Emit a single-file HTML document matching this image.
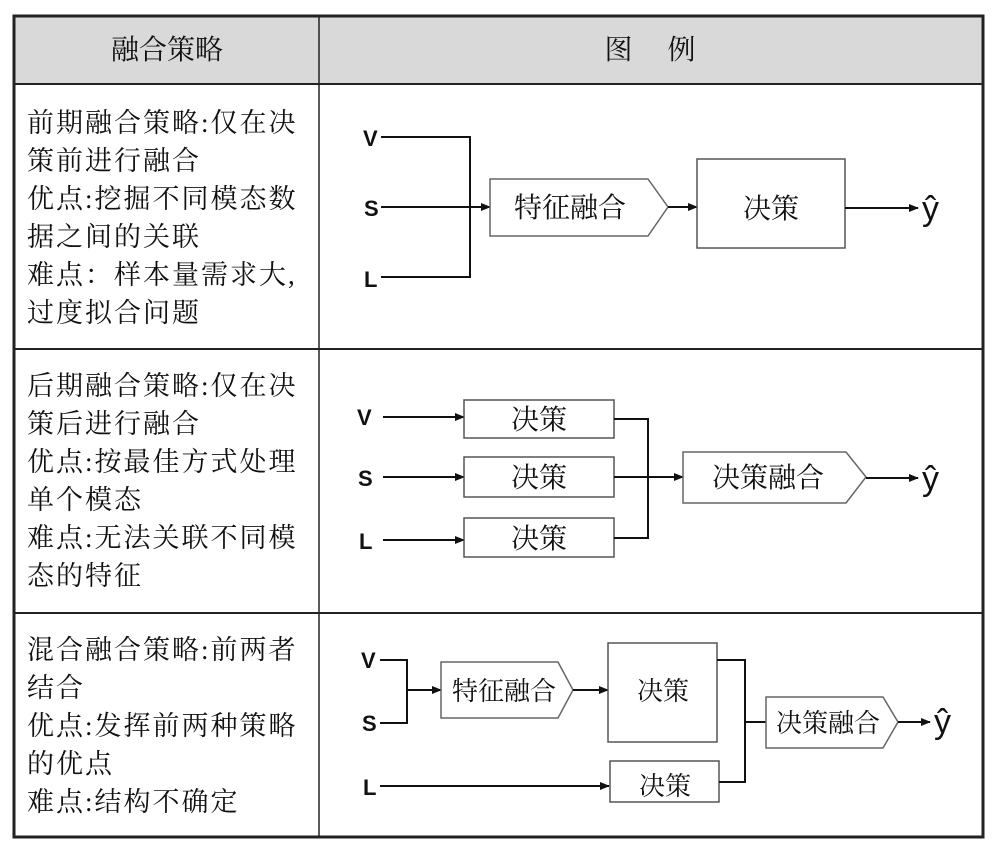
<!DOCTYPE html>
<html><head><meta charset="utf-8"><style>
body{margin:0;background:#fff;}
svg{display:block}
.t{font-family:"Liberation Serif","Noto Serif CJK SC","Noto Sans CJK SC",serif;font-size:27px;letter-spacing:2px;fill:#111;}
.b{font-family:"Liberation Serif","Noto Serif CJK SC","Noto Sans CJK SC",serif;font-size:28px;fill:#111;}
.l{font-family:"Liberation Sans",sans-serif;font-weight:bold;font-size:22px;fill:#111;}
.y{font-family:"Liberation Sans",sans-serif;font-size:34px;fill:#111;}
</style></head><body>
<svg width="999" height="856" viewBox="0 0 999 856">
<defs><marker id="a" markerWidth="10" markerHeight="8" refX="9" refY="4" orient="auto" markerUnits="userSpaceOnUse"><path d="M0,0 L10,4 L0,8z" fill="#111"/></marker></defs>
<rect x="14" y="16" width="969" height="68" fill="#d9d9d9"/>
<g stroke="#222" fill="none">
<rect x="14" y="16" width="969" height="821" stroke-width="3"/>
<line x1="14" y1="84" x2="983" y2="84" stroke-width="2"/>
<line x1="14" y1="349" x2="983" y2="349" stroke-width="2"/>
<line x1="14" y1="613" x2="983" y2="613" stroke-width="2"/>
<line x1="319" y1="16" x2="319" y2="837" stroke-width="1.5"/>
</g>
<text class="b" x="167" y="59" text-anchor="middle" font-size="26">融合策略</text>
<text class="b" x="650" y="59" text-anchor="middle" font-size="26">图　 例</text>
<g class="t">
<text x="27" y="132">前期融合策略:仅在决</text>
<text x="27" y="170">策前进行融合</text>
<text x="27" y="208">优点:挖掘不同模态数</text>
<text x="27" y="246">据之间的关联</text>
<text x="27" y="284">难点：样本量需求大,</text>
<text x="27" y="322">过度拟合问题</text>
<text x="27" y="395">后期融合策略:仅在决</text>
<text x="27" y="433">策后进行融合</text>
<text x="27" y="471">优点:按最佳方式处理</text>
<text x="27" y="509">单个模态</text>
<text x="27" y="547">难点:无法关联不同模</text>
<text x="27" y="585">态的特征</text>
<text x="27" y="659">混合融合策略:前两者</text>
<text x="27" y="697">结合</text>
<text x="27" y="735">优点:发挥前两种策略</text>
<text x="27" y="773">的优点</text>
<text x="27" y="811">难点:结构不确定</text>
</g>
<g stroke="#111" stroke-width="2" fill="none">
<polyline points="381,137 470,137 470,277 381,277"/>
<line x1="381" y1="207" x2="490" y2="207" marker-end="url(#a)"/>
<polygon points="490,179 648,179 668,207 648,236 490,236" stroke="#666" stroke-width="1.5"/>
<line x1="668" y1="207" x2="697" y2="207" marker-end="url(#a)"/>
<rect x="697" y="159" width="148" height="89" stroke="#555" stroke-width="1.5"/>
<line x1="845" y1="208" x2="918" y2="208" marker-end="url(#a)"/>
<line x1="383" y1="417" x2="464" y2="417" marker-end="url(#a)"/>
<line x1="383" y1="477" x2="464" y2="477" marker-end="url(#a)"/>
<line x1="383" y1="540" x2="464" y2="540" marker-end="url(#a)"/>
<rect x="464" y="400" width="150" height="38" stroke="#555" stroke-width="1.5"/>
<rect x="464" y="457" width="150" height="40" stroke="#555" stroke-width="1.5"/>
<rect x="464" y="518" width="150" height="39" stroke="#555" stroke-width="1.5"/>
<polyline points="614,419 648,419 648,538 614,538"/>
<line x1="614" y1="477" x2="683" y2="477" marker-end="url(#a)"/>
<polygon points="683,452 846,452 866,477 846,503 683,503" stroke="#666" stroke-width="1.5"/>
<line x1="866" y1="478" x2="918" y2="478" marker-end="url(#a)"/>
<polyline points="380,660 407,660 407,723 380,723"/>
<line x1="407" y1="690" x2="441" y2="690" marker-end="url(#a)"/>
<polygon points="441,662 558,662 573,690 558,718 441,718" stroke="#666" stroke-width="1.5"/>
<line x1="573" y1="690" x2="608" y2="690" marker-end="url(#a)"/>
<rect x="608" y="643" width="109" height="99" stroke="#555" stroke-width="1.5"/>
<line x1="380" y1="786" x2="609" y2="786" marker-end="url(#a)"/>
<rect x="610" y="761" width="109" height="41" stroke="#555" stroke-width="1.5"/>
<polyline points="717,660 745,660 745,782 719,782"/>
<line x1="745" y1="722" x2="766" y2="722"/>
<polygon points="766,697 883,697 898,722 883,748 766,748" stroke="#666" stroke-width="1.5"/>
<line x1="898" y1="722" x2="930" y2="722" marker-end="url(#a)"/>
</g>
<g class="l">
<text x="363" y="146">V</text><text x="364" y="216">S</text><text x="364" y="287">L</text>
<text x="357" y="425">V</text><text x="358" y="486">S</text><text x="359" y="549">L</text>
<text x="361" y="668">V</text><text x="362" y="731">S</text><text x="363" y="795">L</text>
</g>
<g class="y">
<text x="922" y="220">ŷ</text><text x="922" y="490">ŷ</text><text x="934" y="733">ŷ</text>
</g>
<g class="b">
<text x="570" y="217" text-anchor="middle">特征融合</text>
<text x="771" y="218" text-anchor="middle">决策</text>
<text x="539" y="429" text-anchor="middle">决策</text>
<text x="539" y="487" text-anchor="middle">决策</text>
<text x="539" y="548" text-anchor="middle">决策</text>
<text x="768" y="487" text-anchor="middle">决策融合</text>
<text x="504" y="700" text-anchor="middle" font-size="26">特征融合</text>
<text x="663" y="700" text-anchor="middle" font-size="26">决策</text>
<text x="665" y="795" text-anchor="middle" font-size="26">决策</text>
<text x="828" y="732" text-anchor="middle" font-size="26">决策融合</text>
</g>
</svg>
</body></html>
